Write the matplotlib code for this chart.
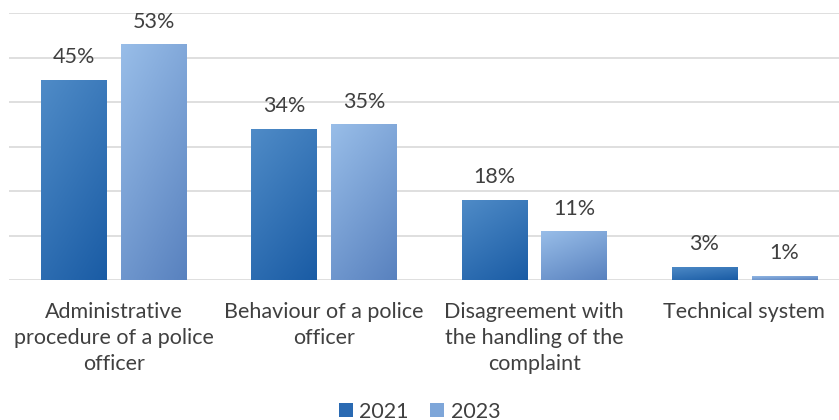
import numpy as np
import matplotlib
matplotlib.use("Agg")
import matplotlib.pyplot as plt
from matplotlib.colors import LinearSegmentedColormap
from matplotlib.patches import Patch

# data
categories = ["Administrative\nprocedure of a police\nofficer",
              "Behaviour of a police\nofficer",
              "Disagreement with\nthe handling of the\ncomplaint",
              "Technical system"]
years = ["2021", "2023"]
values_2021 = [45, 34, 18, 3]
values_2023 = [53, 35, 11, 1]

plt.rcParams['font.family'] = ['Lato', 'DejaVu Sans']
text_color = '#404040'
fs = 15.5

cmaps = {
    "2021": LinearSegmentedColormap.from_list("c21", ["#4f8bc7", "#1a5ca5"]),
    "2023": LinearSegmentedColormap.from_list("c23", ["#98bde8", "#5982bf"]),
}
legend_colors = {"2021": "#2a6ab2", "2023": "#7ea6d9"}

fig = plt.figure(figsize=(8.39, 4.2), dpi=100)
ax = fig.add_axes([8.5 / 839, 140 / 420, 841 / 839, 267 / 420])

x = np.arange(len(categories))
width = 0.31
offset = 0.19

# diagonal gradient (top-left light -> bottom-right dark)
gx, gy = np.meshgrid(np.linspace(0, 1, 50), np.linspace(0, 1, 50))
grad = 0.35 * gx + 0.65 * gy

for i, (yr, vals) in enumerate([("2021", values_2021), ("2023", values_2023)]):
    pos = x + (offset if i else -offset)
    bars = ax.bar(pos, vals, width=width, facecolor='none', edgecolor='none',
                  label=yr, zorder=3)
    for b, v in zip(bars, vals):
        x0, w, h = b.get_x(), b.get_width(), b.get_height()
        im = ax.imshow(grad, cmap=cmaps[yr], extent=(x0, x0 + w, 0, h),
                       origin='upper', aspect='auto', zorder=3,
                       interpolation='bilinear')
        im.set_clip_path(b)
        ax.annotate(f"{v}%", (x0 + w / 2, h), xytext=(0, 9),
                    textcoords='offset points', ha='center', va='bottom',
                    fontsize=fs, color=text_color)

ax.set_xlim(-0.5, 3.5)
ax.set_ylim(0, 60)
ax.set_yticks(np.arange(0, 61, 10))
ax.yaxis.grid(True, color='#d9d9d9', linewidth=1.2, zorder=0)
ax.set_axisbelow(True)
ax.tick_params(axis='y', left=False, labelleft=False)
ax.tick_params(axis='x', bottom=False, pad=12)
ax.set_xticks(x)
ax.set_xticklabels(categories, fontsize=fs, color=text_color, linespacing=1.4)
for s in ax.spines.values():
    s.set_visible(False)

handles = [Patch(facecolor=legend_colors[y], edgecolor='none') for y in years]
fig.legend(handles, years, loc='lower center', bbox_to_anchor=(0.5, -0.05),
           ncol=2, frameon=False, fontsize=fs, labelcolor=text_color,
           handlelength=0.65, handleheight=0.65, handletextpad=0.3,
           columnspacing=1.0)

fig.savefig("out.png", dpi=100)
